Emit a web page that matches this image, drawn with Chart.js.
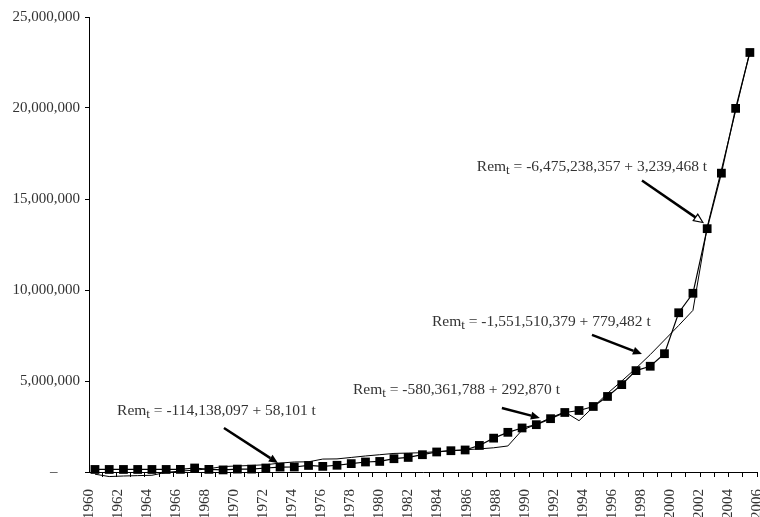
<!DOCTYPE html>
<html>
<head>
<meta charset="utf-8">
<script src="https://cdn.jsdelivr.net/npm/chart.js@4.4.1/dist/chart.umd.min.js"></script>
<style>
  body { margin: 0; background: #fff; }
  canvas { display: block; }
</style>
</head>
<body>
<canvas id="grafico" width="760" height="517"></canvas>
<script>
// anos da serie (1960-2006)
const anos = [1960, 1961, 1962, 1963, 1964, 1965, 1966, 1967, 1968, 1969,
  1970, 1971, 1972, 1973, 1974, 1975, 1976, 1977, 1978, 1979,
  1980, 1981, 1982, 1983, 1984, 1985, 1986, 1987, 1988, 1989,
  1990, 1991, 1992, 1993, 1994, 1995, 1996, 1997, 1998, 1999,
  2000, 2001, 2002, 2003, 2004, 2005, 2006];

// remessas observadas (marcadores quadrados)
const remessas = [140000, 140000, 140000, 140000, 140000, 140000, 145000, 220000, 145000, 115000,
  160000, 160000, 220000, 270000, 275000, 360000, 310000, 370000, 460000, 550000,
  580000, 730000, 800000, 950000, 1100000, 1170000, 1210000, 1460000, 1860000, 2180000,
  2420000, 2600000, 2930000, 3270000, 3380000, 3600000, 4150000, 4800000, 5570000, 5810000,
  6500000, 8750000, 9820000, 13370000, 16420000, 19980000, 23050000];

// valores ajustados (linha fina)
const ajustado = [-120000, -250000, -220000, -200000, -180000, -20000, 50000, 100000, 180000, 300000,
  330000, 360000, 400000, 490000, 550000, 560000, 710000, 720000, 800000, 880000,
  950000, 1020000, 1040000, 1060000, 1120000, 1170000, 1220000, 1270000, 1330000, 1430000,
  2300000, 2620000, 2980000, 3300000, 2820000, 3570000, 4320000, 5000000, 5700000, 6450000,
  7250000, 8050000, 8880000, 13450000, 16600000, 19850000, 23100000];

// rotulos do eixo x
const anosRotulo = [1960, 1962, 1964, 1966, 1968, 1970, 1972, 1974, 1976, 1978, 1980, 1982,
  1984, 1986, 1988, 1990, 1992, 1994, 1996, 1998, 2000, 2002, 2004, 2006];

// equacoes das tendencias
const equacoes = [
  " = -114,138,097 + 58,101 t",
  " = -580,361,788 + 292,870 t",
  " = -1,551,510,379 + 779,482 t",
  " = -6,475,238,357 + 3,239,468 t"
];

// onde fica cada texto e cada seta (em coordenadas de ano / valor)
const notas = [
  { texto: [1961.55, 3350000], de: [1969.06, 2420000], para: [1972.85, 490000], aberta: false },
  { texto: [1978.12, 4510000], de: [1988.58, 3520000], para: [1991.25, 2970000], aberta: false },
  { texto: [1983.67, 8270000], de: [1994.91, 7530000], para: [1998.42, 6480000], aberta: false },
  { texto: [1986.82, 16780000], de: [1998.42, 16020000], para: [2002.70, 13710000], aberta: true }
];

const fonte = '"Liberation Serif", "Times New Roman", serif';
const corTexto = "#333";

function desenharSeta(ctx, x1, y1, x2, y2, aberta) {
  const ang = Math.atan2(y2 - y1, x2 - x1);
  const comp = 9, larg = 4;
  const bx = x2 - comp * Math.cos(ang), by = y2 - comp * Math.sin(ang);
  ctx.strokeStyle = "#000";
  ctx.lineWidth = 2.5;
  ctx.beginPath();
  ctx.moveTo(x1, y1);
  ctx.lineTo(bx, by);
  ctx.stroke();
  ctx.beginPath();
  ctx.moveTo(x2, y2);
  ctx.lineTo(bx + larg * Math.sin(ang), by - larg * Math.cos(ang));
  ctx.lineTo(bx - larg * Math.sin(ang), by + larg * Math.cos(ang));
  ctx.closePath();
  if (aberta) {
    ctx.fillStyle = "#fff";
    ctx.fill();
    ctx.lineWidth = 1.2;
    ctx.stroke();
  } else {
    ctx.fillStyle = "#000";
    ctx.fill();
  }
}

const pluginNotas = {
  id: "notas",
  afterDatasetsDraw(chart) {
    const ctx = chart.ctx;
    const sx = chart.scales.x, sy = chart.scales.y;
    ctx.save();
    notas.forEach((n, i) => {
      const tx = sx.getPixelForValue(n.texto[0]);
      const ty = sy.getPixelForValue(n.texto[1]);
      ctx.fillStyle = corTexto;
      ctx.textBaseline = "middle";
      ctx.textAlign = "left";
      ctx.font = "15.5px " + fonte;
      ctx.fillText("Rem", tx, ty);
      let x = tx + ctx.measureText("Rem").width;
      ctx.font = "13px " + fonte;
      ctx.fillText("t", x, ty + 4);
      x += ctx.measureText("t").width;
      ctx.font = "15.5px " + fonte;
      ctx.fillText(equacoes[i], x, ty);

      desenharSeta(ctx,
        sx.getPixelForValue(n.de[0]), sy.getPixelForValue(n.de[1]),
        sx.getPixelForValue(n.para[0]), sy.getPixelForValue(n.para[1]),
        n.aberta);
    });
    ctx.restore();
  }
};

// tira o espaco extra que o Chart.js reserva nas pontas do eixo x
function semPadding(s, altura) {
  s.height = altura;
  s.paddingLeft = 0;
  s.paddingRight = 0;
}

const ctx = document.getElementById("grafico").getContext("2d");

new Chart(ctx, {
  type: "line",
  data: {
    datasets: [
      {
        data: anos.map((a, i) => ({ x: a, y: ajustado[i] })),
        borderColor: "#000",
        borderWidth: 1,
        pointRadius: 0,
        fill: false,
        tension: 0,
        clip: false
      },
      {
        data: anos.map((a, i) => ({ x: a, y: remessas[i] })),
        borderColor: "#000",
        backgroundColor: "#000",
        borderWidth: 1.2,
        pointStyle: "rect",
        pointRadius: 6.2,
        pointBorderWidth: 0,
        fill: false,
        tension: 0,
        clip: false
      }
    ]
  },
  options: {
    responsive: false,
    animation: false,
    layout: { autoPadding: false, padding: { top: 17, right: 3, left: 0, bottom: 0 } },
    plugins: {
      legend: { display: false },
      tooltip: { enabled: false }
    },
    scales: {
      x: {
        type: "linear",
        position: "bottom",
        weight: 0,
        min: 1959.58,
        max: 2006.5,
        afterBuildTicks: (s) => { s.ticks = anos.map((a) => ({ value: a + 0.5 })); },
        afterFit: (s) => semPadding(s, 0),
        ticks: { display: false },
        grid: { drawOnChartArea: false, drawTicks: true, tickLength: 5, color: "#000", lineWidth: 1 },
        border: { display: true, color: "#000", width: 1 }
      },
      xl: {
        type: "linear",
        position: "bottom",
        weight: 1,
        min: 1960,
        max: 2006,
        afterBuildTicks: (s) => { s.ticks = anosRotulo.map((a) => ({ value: a })); },
        afterFit: (s) => semPadding(s, 45),
        ticks: {
          autoSkip: false,
          minRotation: 90,
          maxRotation: 90,
          padding: 9,
          color: corTexto,
          font: { family: fonte, size: 15 },
          callback: (v) => String(v)
        },
        grid: { display: false },
        border: { display: false }
      },
      y: {
        min: 0,
        max: 25000000,
        afterFit: (s) => { s.width = 89; },
        ticks: {
          stepSize: 5000000,
          padding: 5,
          color: corTexto,
          font: { family: fonte, size: 15 },
          callback: (v) => v === 0 ? "–      " : v.toLocaleString("en-US")
        },
        grid: { drawOnChartArea: false, drawTicks: true, tickLength: 4, color: "#000" },
        border: { display: true, color: "#000", width: 1 }
      }
    }
  },
  plugins: [pluginNotas]
});
</script>
</body>
</html>
